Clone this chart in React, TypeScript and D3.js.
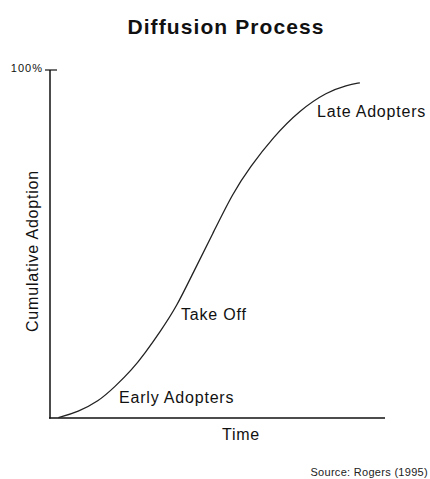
import React, { useEffect, useRef } from 'react'
import * as d3 from 'd3'

// Chart data
const timeValues = [2.5, 8.4, 14.4, 19.4, 24.4, 28.4, 32.8, 37.8, 42.7, 48.7, 54.6, 59.7, 66.6, 74.6, 82.7, 88.7, 92.5]
const adoptionValues = [0.1, 1.8, 4.7, 9.0, 13.8, 18.7, 24.7, 32.0, 41.7, 53.2, 64.7, 72.1, 80.7, 88.5, 93.7, 95.7, 96.3]
const yTickValues = [100]
const yTickLabels = ['100%']

const labelNames = ['Early Adopters', 'Take Off', 'Late Adopters']
const labelTimes = [20.6, 39.1, 79.7]
const labelAdoption = [4.3, 28.2, 86.5]

const WIDTH = 430
const HEIGHT = 479
const FONT = 'Arial, "Liberation Sans", Helvetica, sans-serif'

function App() {
    const ref = useRef<SVGSVGElement | null>(null)

    useEffect(() => {
        const svg = d3.select(ref.current)
        svg.selectAll('*').remove()

        const x = d3.scaleLinear().domain([0, 100]).range([50, 385])
        const y = d3.scaleLinear().domain([0, 100]).range([418, 70])

        svg.append('rect').attr('width', WIDTH).attr('height', HEIGHT).attr('fill', '#fff')

        // title
        svg.append('text')
            .attr('x', 226).attr('y', 34)
            .attr('text-anchor', 'middle')
            .attr('font-family', FONT).attr('font-weight', 'bold')
            .attr('font-size', 21).attr('letter-spacing', 1.1)
            .attr('fill', '#111')
            .text('Diffusion Process')

        // axes
        svg.append('line')
            .attr('x1', x(0)).attr('x2', x(0))
            .attr('y1', y(100)).attr('y2', y(0) + 0.5)
            .attr('stroke', '#111').attr('stroke-width', 1.5)
        svg.append('line')
            .attr('x1', x(0) - 1).attr('x2', x(100))
            .attr('y1', y(0)).attr('y2', y(0))
            .attr('stroke', '#111').attr('stroke-width', 1.5)

        // y tick
        yTickValues.forEach((v, i) => {
            svg.append('line')
                .attr('x1', x(0) - 5).attr('x2', x(0) + 7)
                .attr('y1', y(v)).attr('y2', y(v))
                .attr('stroke', '#111').attr('stroke-width', 1.2)
            svg.append('text')
                .attr('x', x(0) - 7).attr('y', y(v) + 2)
                .attr('text-anchor', 'end')
                .attr('font-family', FONT).attr('font-size', 11)
                .attr('letter-spacing', 1)
                .attr('fill', '#111')
                .text(yTickLabels[i])
        })

        // axis titles
        svg.append('text')
            .attr('x', 241).attr('y', 440)
            .attr('text-anchor', 'middle')
            .attr('font-family', FONT).attr('font-size', 16)
            .attr('letter-spacing', 0.8)
            .attr('fill', '#111')
            .text('Time')
        svg.append('text')
            .attr('transform', 'translate(38, 251) rotate(-90)')
            .attr('text-anchor', 'middle')
            .attr('font-family', FONT).attr('font-size', 16)
            .attr('letter-spacing', 0.8)
            .attr('fill', '#111')
            .text('Cumulative Adoption')

        // curve
        const points = timeValues.map((t, i) => [t, adoptionValues[i]] as [number, number])
        const line = d3.line<[number, number]>()
            .x(d => x(d[0]))
            .y(d => y(d[1]))
            .curve(d3.curveBasis)
        svg.append('path')
            .datum(points)
            .attr('d', line)
            .attr('fill', 'none')
            .attr('stroke', '#222')
            .attr('stroke-width', 1.3)

        // curve labels
        labelNames.forEach((name, i) => {
            svg.append('text')
                .attr('x', x(labelTimes[i])).attr('y', y(labelAdoption[i]))
                .attr('font-family', FONT).attr('font-size', 16)
                .attr('letter-spacing', 0.8)
                .attr('fill', '#111')
                .text(name)
        })

        // source note
        svg.append('text')
            .attr('x', 428).attr('y', 476)
            .attr('text-anchor', 'end')
            .attr('font-family', FONT).attr('font-size', 11)
            .attr('letter-spacing', 0.3)
            .attr('fill', '#222')
            .text('Source: Rogers (1995)')
    }, [])

    return (
        <svg
            ref={ref}
            width={WIDTH}
            height={HEIGHT}
            style={{ position: 'absolute', left: 0, top: 0, display: 'block' }}
        />
    )
}

export default App
